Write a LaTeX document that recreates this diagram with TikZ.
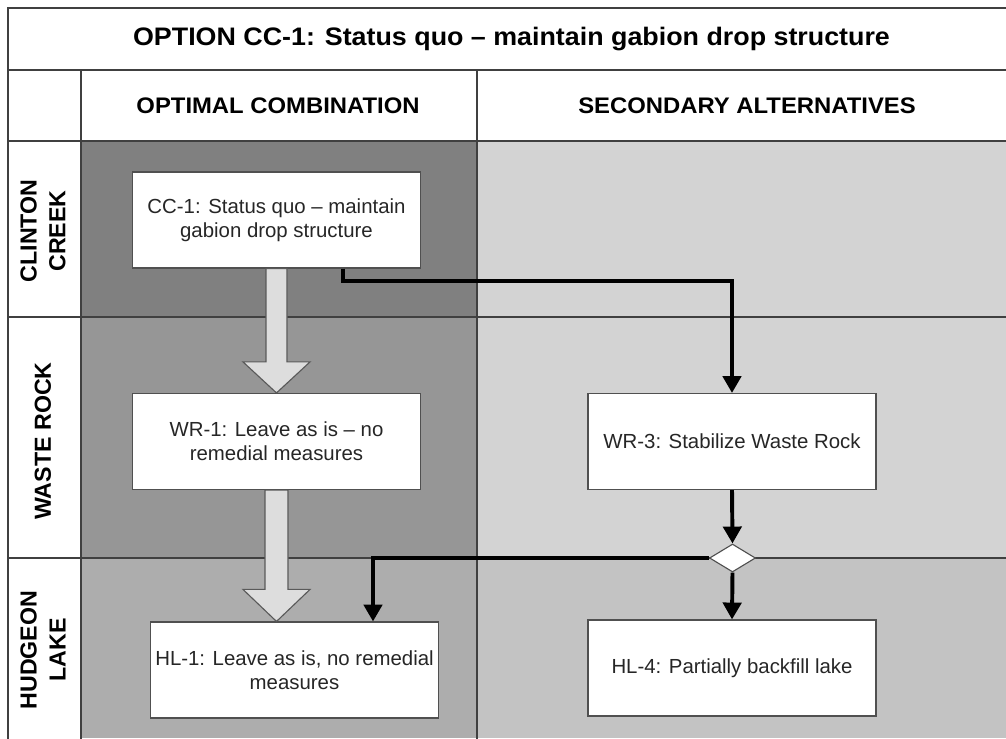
\documentclass[tikz,border=0pt]{standalone}
\usepackage{fontspec}
\setmainfont{Liberation Sans}
\newfontfamily\headfont{Liberation Sans}[FakeStretch=1.06]
\usetikzlibrary{shapes.geometric,arrows.meta,calc}

\definecolor{cellcc}{HTML}{808080}
\definecolor{cellwr}{HTML}{969696}
\definecolor{cellhl}{HTML}{ADADAD}
\definecolor{cellsec}{HTML}{D3D3D3}
\definecolor{cellsechl}{HTML}{C3C3C3}
\definecolor{arrowfill}{HTML}{DDDDDD}
\definecolor{gridline}{HTML}{404040}
\definecolor{boxline}{HTML}{505050}
\definecolor{boxtext}{HTML}{262626}

\tikzset{
  optbox/.style={draw=boxline, fill=white, line width=0.8pt, minimum width=7.2cm,
    minimum height=2.4cm, align=center, text=boxtext,
    font=\fontsize{14.5}{17}\selectfont},
  flow/.style={line width=2.8pt, -{Triangle[length=12pt,width=13pt]}},
  fatarrow/.style={draw=gray!70!black, fill=arrowfill, line width=0.8pt},
  rowlabel/.style={rotate=90, align=center, font=\bfseries\fontsize{16.5}{20.5}\selectfont},
  headlabel/.style={font=\headfont\bfseries\fontsize{16}{19}\selectfont},
  titlelabel/.style={font=\headfont\bfseries\fontsize{18}{21}\selectfont},
  grid/.style={draw=gridline, line width=1.1pt}
}

\begin{document}
\begin{tikzpicture}[x=0.025cm, y=-0.025cm]
        \useasboundingbox (0, 0) rectangle (1006, 738);

        % Fill the cells
        \fill[white] (8, 8) rectangle (1016, 141);
        \fill[white] (8, 141) rectangle (81, 738);
        \fill[cellcc] (81, 141) rectangle (477, 317);
        \fill[cellwr] (81, 317) rectangle (477, 558);
        \fill[cellhl] (81, 558) rectangle (477, 738);
        \fill[cellsec] (477, 141) rectangle (1016, 558);
        \fill[cellsechl] (477, 558) rectangle (1016, 738);

        % Draw the grid lines
        \draw[grid] (8, 745) -- (8, 8) -- (1016, 8);
        \draw[grid] (8, 70) -- (1016, 70);
        \draw[grid] (8, 141) -- (1016, 141);
        \draw[grid] (8, 317) -- (1016, 317);
        \draw[grid] (8, 558) -- (1016, 558);
        \draw[grid] (81, 70) -- (81, 745);
        \draw[grid] (477, 70) -- (477, 745);

        % Title and column headers
        \node[titlelabel] (title) at (511.5, 39) {OPTION CC-1: Status quo – maintain gabion drop structure};
        \node[headlabel] (optimal) at (278, 105.5) {OPTIMAL COMBINATION};
        \node[headlabel] (secondary) at (747, 105.5) {SECONDARY ALTERNATIVES};

        % Row labels
        \node[rowlabel] (clinton) at (43, 231) {CLINTON\\CREEK};
        \node[rowlabel] (waste) at (43, 441) {WASTE ROCK};
        \node[rowlabel] (hudgeon) at (43, 650) {HUDGEON\\LAKE};

        % Option boxes
        \node[optbox] (cc1) at (276.5, 220) {CC-1: Status quo -- maintain\\gabion drop structure};
        \node[optbox] (wr1) at (276.5, 441.5) {WR-1: Leave as is -- no\\remedial measures};
        \node[optbox] (wr3) at (732, 441.5) {WR-3: Stabilize Waste Rock};
        \node[optbox] (hl1) at (294.5, 670) {HL-1: Leave as is, no remedial\\measures};
        \node[optbox] (hl4) at (732, 668) {HL-4: Partially backfill lake};
        \node[draw=boxline, fill=white, line width=0.8pt, diamond, minimum width=1.15cm,
          minimum height=0.7cm, inner sep=0pt] (split) at (732.5, 558) {};

        % Hollow arrows for the optimal combination
        \draw[fatarrow] ($(cc1.south)+(-10.5,0)$) -- ($(cc1.south)+(10.5,0)$)
          -- ($(wr1.north)+(10.5,-31)$) -- ($(wr1.north)+(33.5,-31)$) -- (wr1.north)
          -- ($(wr1.north)+(-33.5,-31)$) -- ($(wr1.north)+(-10.5,-31)$) -- cycle;
        \coordinate (hl1top) at (wr1.south |- hl1.north);
        \draw[fatarrow] ($(wr1.south)+(-11.5,0)$) -- ($(wr1.south)+(11.5,0)$)
          -- ($(hl1top)+(11.5,-32)$) -- ($(hl1top)+(33.5,-32)$) -- (hl1top)
          -- ($(hl1top)+(-33.5,-32)$) -- ($(hl1top)+(-11.5,-32)$) -- cycle;

        % Black connectors to the secondary alternatives
        \coordinate (ccout) at ($(cc1.south)+(66.5,0)$);
        \coordinate (hl1in) at ($(hl1.north)+(78.5,0)$);
        \draw[flow] (ccout) -- ++(0, 12) -| (wr3.north);
        \draw[flow] (wr3.south) -- (split.north);
        \draw[flow] (split.south) -- (hl4.north);
        \draw[flow] (split.west) -| (hl1in);
    \end{tikzpicture}
\end{document}
